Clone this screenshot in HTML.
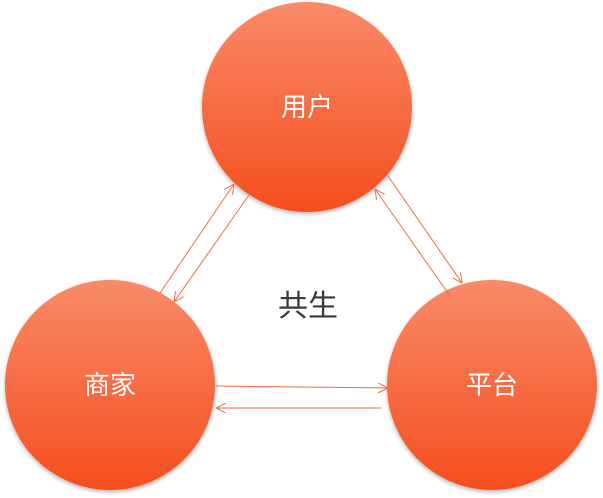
<!DOCTYPE html>
<html><head><meta charset="utf-8"><style>
html,body{margin:0;padding:0;background:#fff;width:603px;height:498px;overflow:hidden}
svg{display:block}
</style></head><body>
<svg width="603" height="498" viewBox="0 0 603 498" xmlns="http://www.w3.org/2000/svg">
<defs>
<linearGradient id="g" x1="0" y1="0" x2="0" y2="1">
<stop offset="0" stop-color="#f98a68"/><stop offset="1" stop-color="#f54e1e"/>
</linearGradient>
<filter id="s" x="-20%" y="-20%" width="140%" height="140%"><feDropShadow dx="0" dy="2" stdDeviation="2" flood-color="#000" flood-opacity="0.3"/></filter>
<marker id="a" viewBox="0 0 10 10" refX="10" refY="5" markerWidth="10" markerHeight="10" orient="auto" markerUnits="userSpaceOnUse">
<path d="M0,0 L10,5 L0,10" fill="none" stroke="#f26a45" stroke-width="1"/></marker>
</defs>
<circle cx="307" cy="107" r="105" fill="url(#g)" filter="url(#s)"/>
<circle cx="110" cy="385" r="105" fill="url(#g)" filter="url(#s)"/>
<circle cx="492" cy="385" r="105" fill="url(#g)" filter="url(#s)"/>
<g stroke="#f26a45" stroke-width="1" fill="none" marker-end="url(#a)">
<line x1="160" y1="293" x2="234" y2="184"/>
<line x1="249" y1="195" x2="174" y2="302"/>
<line x1="388" y1="176" x2="462" y2="283"/>
<line x1="450" y1="296" x2="375" y2="189"/>
<line x1="216" y1="386" x2="388" y2="388"/>
<line x1="381" y1="408" x2="216" y2="408"/>
</g>
<g font-family="Liberation Sans, Noto Sans CJK SC, sans-serif" text-anchor="middle">
<text x="307" y="116" font-size="26" fill="#fff">用户</text>
<text x="110" y="394" font-size="26" fill="#fff">商家</text>
<text x="492" y="394" font-size="26" fill="#fff">平台</text>
<text x="308" y="316" font-size="30" fill="#3a3a3a">共生</text>
</g>
</svg>
</body></html>
